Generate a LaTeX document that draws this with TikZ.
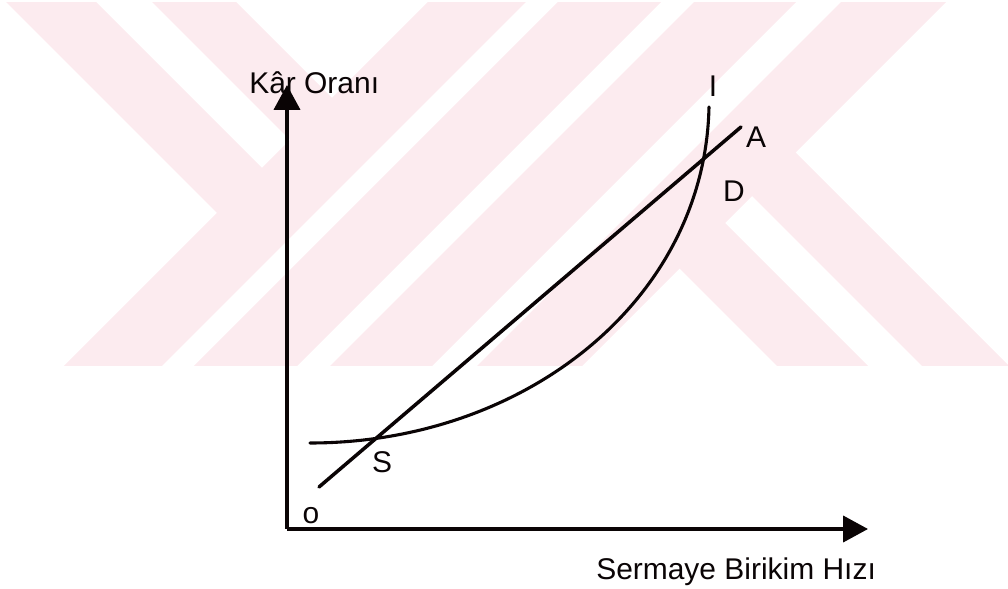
\documentclass[tikz,border=0pt]{standalone}
\usepackage{fontspec}
\setmainfont{Liberation Sans}
\usepackage{xcolor}
\definecolor{wmpink}{RGB}{252,235,239}
\definecolor{inkblack}{HTML}{0A0405}
\usepackage{tikz}
\usetikzlibrary{
  arrows.meta,
  calc,
}

\begin{document}
\begin{tikzpicture}[
  x=0.025cm, y=-0.025cm,
  axis/.style={
    -{Triangle[length=0.62cm, width=0.65cm]},
    line width=2.5pt,
    draw=inkblack,
  },
  curveline/.style={
    line width=2.2pt,
    draw=inkblack,
    line cap=round,
  },
  lbl/.style={
    font=\fontsize{21.3}{25}\selectfont,
    text=inkblack,
    inner sep=0pt,
  },
]

\useasboundingbox (0,0) rectangle (1008,589);

% =============================================================================
% Watermark stripes
% =============================================================================
\begin{scope}
  \clip (0,3) rectangle (1008,366);
  % long stripes going down-left
  \foreach \sa/\sb in {430/528, 560/663, 696/798, 843/948}
    \fill[wmpink] (\sa,0) -- (\sb,0) -- ({\sb-370},370) -- ({\sa-370},370) -- cycle;
  % upper-left arm
  \foreach \da/\db in {4/94, 150/234}
    \fill[wmpink] (\da,0) -- (\db,0) -- ({(440+\db)/2},{(440-\db)/2})
      -- ({(440+\da)/2},{(440-\da)/2}) -- cycle;
  % lower-right arm
  \foreach \da/\db in {411/502, 556/643}
    \fill[wmpink] ({(940+\da)/2},{(940-\da)/2}) -- ({(940+\db)/2},{(940-\db)/2})
      -- ({\db+370},370) -- ({\da+370},370) -- cycle;
\end{scope}

% =============================================================================
% Axes
% =============================================================================
\coordinate (origin) at (287,529);
\coordinate (ytip) at (287,85);
\coordinate (xtip) at (868,529);

\draw[axis] (origin) -- (ytip);
\draw[axis] (origin) -- (xtip);

\node[lbl, anchor=base west] (ylabel) at (249,94) {Kâr Oranı};
\node[lbl, anchor=base west] (xlabel) at (596,580) {Sermaye Birikim Hızı};
\node[lbl] (lblo) at (311,516) {o};

% =============================================================================
% Line A and curve I
% =============================================================================
\coordinate (astart) at (319,487);
\coordinate (aend) at (741,127);
\coordinate (istart) at (310,443);
\coordinate (iend) at (709,107);

\draw[curveline, line width=2.5pt] (astart) -- (aend);
\draw[curveline] (istart) .. controls (525,443) and (705,300) .. (iend);

\node[lbl] (lblI) at (713,86) {I};
\node[lbl] (lblA) at (756,137) {A};
\node[lbl] (lblD) at (734,191) {D};
\node[lbl] (lblS) at (382,462) {S};

\end{tikzpicture}
\end{document}
